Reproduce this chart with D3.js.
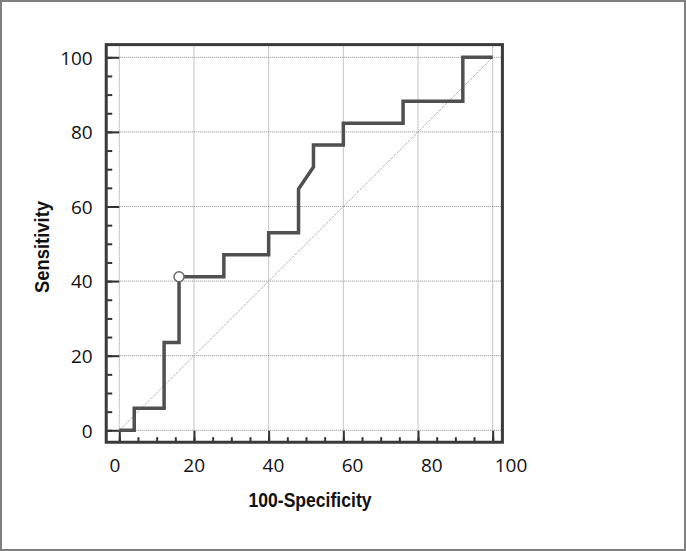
<!DOCTYPE html>
<meta charset="utf-8">
<style>
body { margin: 0; background: #fff; }
.tick text { font-family: "Open Sans", sans-serif; font-size: 19px; fill: #111; }
.title { font-family: "Liberation Sans Narrow", "Liberation Sans", sans-serif; font-weight: bold; font-size: 20px; fill: #111; }
</style>
<svg width="686" height="551"></svg>
<script src="https://d3js.org/d3.v7.min.js"></script>
<script>

// ROC curve (25 negatives, 17 positives)
var fpr = [0, 4, 4, 12, 12, 16, 16, 28, 28, 40, 40, 48, 48, 52, 52, 60, 60, 76, 76, 92, 92, 100];
var tpr = [0, 0, 5.88, 5.88, 23.53, 23.53, 41.18, 41.18, 47.06, 47.06, 52.94, 52.94,
           64.71, 70.59, 76.47, 76.47, 82.35, 82.35, 88.24, 88.24, 100, 100];
var cutoff = [16, 41.18];
var majorTicks = [0, 20, 40, 60, 80, 100];
var minorTicks = d3.range(0, 101, 5);

var svg = d3.select("svg");

var x = d3.scaleLinear().domain([0, 100]).range([119.3, 492.7]);
var y = d3.scaleLinear().domain([0, 100]).range([430.3, 57.3]);
// tick labels under the x axis sit on a slightly wider spacing than the grid
var xLab = d3.scaleLinear().domain([0, 100]).range([115, 511]);

var x0 = x(-3.5), x1 = x(102.6), y0 = y(-3.2), y1 = y(103.4);

// outer border
svg.append("rect")
    .attr("x", 1).attr("y", 1).attr("width", 684).attr("height", 549)
    .attr("fill", "none").attr("stroke", "#808080").attr("stroke-width", 2);

// grid
var grid = svg.append("g")
    .attr("stroke", "#8a8a8a").attr("stroke-width", 1).attr("stroke-dasharray", "1,1");
grid.selectAll(".gx").data(majorTicks).enter().append("line")
    .attr("x1", function(d) { return x(d); }).attr("x2", function(d) { return x(d); })
    .attr("y1", y1).attr("y2", y0);
grid.selectAll(".gy").data(majorTicks).enter().append("line")
    .attr("x1", x0).attr("x2", x1)
    .attr("y1", function(d) { return y(d); }).attr("y2", function(d) { return y(d); });

// diagonal
svg.append("line")
    .attr("x1", x(0)).attr("y1", y(0)).attr("x2", x(100)).attr("y2", y(100))
    .attr("stroke", "#b4b4b4").attr("stroke-width", 1).attr("stroke-dasharray", "3,1");

// axes: ticks pointing inward
var yMinor = svg.append("g").attr("transform", "translate(" + x0 + ",0)")
    .call(d3.axisLeft(y).tickValues(minorTicks).tickSize(-6).tickFormat(""));
var yMajor = svg.append("g").attr("transform", "translate(" + x0 + ",0)")
    .call(d3.axisLeft(y).tickValues(majorTicks).tickSize(-13).tickPadding(13.5));
var xMinor = svg.append("g").attr("transform", "translate(0," + y0 + ")")
    .call(d3.axisBottom(x).tickValues(minorTicks).tickSize(-5).tickFormat(""));
var xMajor = svg.append("g").attr("transform", "translate(0," + y0 + ")")
    .call(d3.axisBottom(x).tickValues(majorTicks).tickSize(-11.5).tickFormat(""));

[yMinor, yMajor, xMinor, xMajor].forEach(function(g) {
  g.select(".domain").remove();
  g.selectAll(".tick line").attr("stroke", "#333").attr("stroke-width", 2);
});
yMajor.selectAll(".tick text").attr("dy", "0.36em");

svg.append("g").attr("class", "tick")
  .selectAll("text").data(majorTicks).enter().append("text")
    .attr("x", function(d) { return xLab(d); })
    .attr("y", 472)
    .attr("text-anchor", "middle")
    .text(function(d) { return d; });

// frame
svg.append("rect")
    .attr("x", x0).attr("y", y1).attr("width", x1 - x0).attr("height", y0 - y1)
    .attr("fill", "none").attr("stroke", "#3a3a3a").attr("stroke-width", 3);

// ROC curve
var line = d3.line()
    .x(function(d) { return x(d[0]); })
    .y(function(d) { return y(d[1]); });

svg.append("path")
    .datum(d3.zip(fpr, tpr))
    .attr("d", line)
    .attr("fill", "none")
    .attr("stroke", "#505050")
    .attr("stroke-width", 3.5)
    .attr("stroke-linejoin", "miter");

svg.append("circle")
    .attr("cx", x(cutoff[0])).attr("cy", y(cutoff[1])).attr("r", 5)
    .attr("fill", "#fff").attr("stroke", "#6a6a6a").attr("stroke-width", 1.5);

// titles
svg.append("text").attr("class", "title")
    .attr("x", 310).attr("y", 507)
    .attr("text-anchor", "middle")
    .attr("textLength", 123).attr("lengthAdjust", "spacingAndGlyphs")
    .text("100-Specificity");

svg.append("text").attr("class", "title")
    .attr("transform", "translate(49,247) rotate(-90)")
    .attr("text-anchor", "middle")
    .attr("textLength", 92).attr("lengthAdjust", "spacingAndGlyphs")
    .text("Sensitivity");

</script>
